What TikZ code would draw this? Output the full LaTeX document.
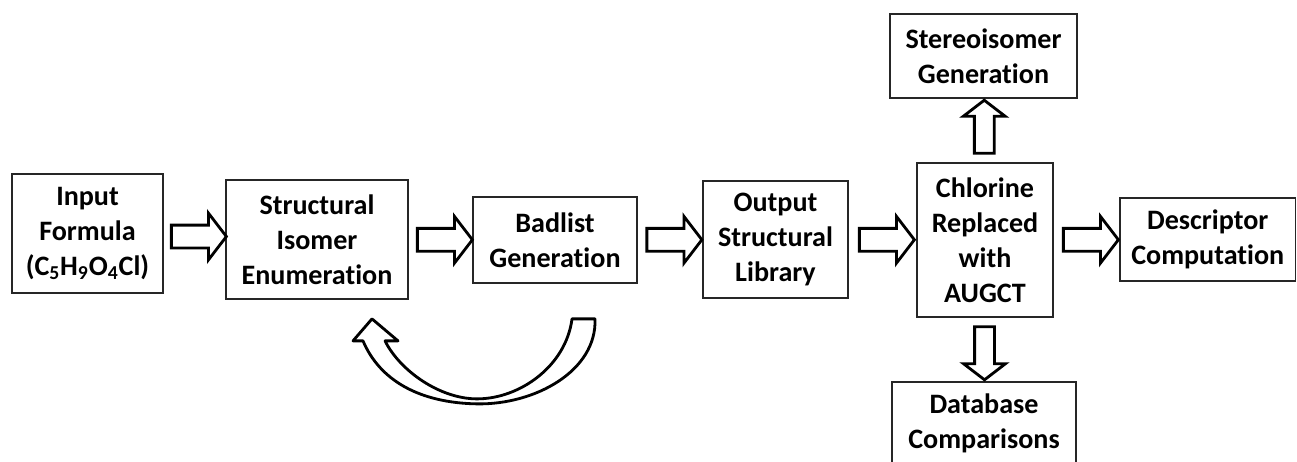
\documentclass[tikz,border=0pt]{standalone}
\usepackage{fontspec}
\setmainfont{Carlito}[Ligatures=NoCommon]
\usetikzlibrary{shapes.arrows,calc}

\begin{document}
\begin{tikzpicture}
[x=0.02cm,y=-0.02cm,
  boxdecorate/.style={draw=black!85,line width=1pt,align=center,inner sep=0pt,%
    font=\fontsize{16}{19.9}\selectfont\bfseries},%
  arrowdecorate/.style={single arrow,draw,line width=1.6pt,fill=white,inner sep=0.2cm,%
    single arrow head extend=0.24cm,single arrow tip angle=105,minimum height=1.1cm},%
  varrowdecorate/.style={arrowdecorate,inner sep=0.17cm,%
    single arrow head extend=0.22cm,minimum height=1.06cm},%
  loopdecorate/.style={draw,line width=1.6pt,line join=round}]
%% page frame
\useasboundingbox (0,0) rectangle (1297,461);
\clip (0,0) rectangle (1297,461);
%% boxes of the main row
\node (input) at (87.5,233.5) [boxdecorate,minimum width=3.02cm,minimum height=2.38cm]
  {Input\\Formula\\(C\textsubscript{5}H\textsubscript{9}O\textsubscript{4}Cl)};
\node (struct) at (317,239.5) [boxdecorate,minimum width=3.64cm,minimum height=2.38cm]
  {Structural\\Isomer\\Enumeration};
\node (badlist) at (555,240) [boxdecorate,minimum width=3.28cm,minimum height=1.72cm]
  {Badlist\\Generation};
\node (output) at (775.5,239.5) [boxdecorate,minimum width=2.9cm,minimum height=2.34cm]
  {Output\\Structural\\Library};
\node (chlorine) at (985,240) [boxdecorate,minimum width=2.72cm,minimum height=3.08cm]
  {Chlorine\\Replaced\\with\\AUGCT};
\node (descriptor) at (1207.75,239.5) [boxdecorate,minimum width=3.51cm,minimum height=1.66cm]
  {Descriptor\\Computation};
%% boxes above and below
\node (stereo) at (983.5,56) [boxdecorate,minimum width=3.74cm,minimum height=1.68cm]
  {Stereoisomer\\Generation};
\node (database) at (984,423.5) [boxdecorate,minimum width=3.68cm,minimum height=1.66cm]
  {Database\\Comparisons};
%% block arrows
\foreach \fromnode/\tonode in {
  input/struct, struct/badlist, badlist/output,
  output/chlorine, chlorine/descriptor} {
  \node (\fromnode-\tonode) at ($(\fromnode.east)!0.5!(\tonode.west)$) [arrowdecorate] {};
}
\node (chlorine-stereo) at ($(chlorine.north)!0.5!(stereo.south)$)
  [varrowdecorate,shape border rotate=90] {};
\node (chlorine-database) at ($(chlorine.south)!0.5!(database.north)$)
  [varrowdecorate,shape border rotate=270] {};
%% curved arrow back to the enumeration
\coordinate (looptip) at ($(struct.south)+(55,19)$);
\draw[loopdecorate,shift={(looptip)}] (0,0) -- (26,22) -- (13,22)
  .. controls (28,52) and (68,80) .. (105,80)
  .. controls (148,80) and (194,47) .. (200,0) -- (223,0)
  .. controls (225,52) and (163,86) .. (105,85)
  .. controls (48,84) and (8,62) .. (-9,22) -- (-19,22) -- cycle;
\end{tikzpicture}
\end{document}
